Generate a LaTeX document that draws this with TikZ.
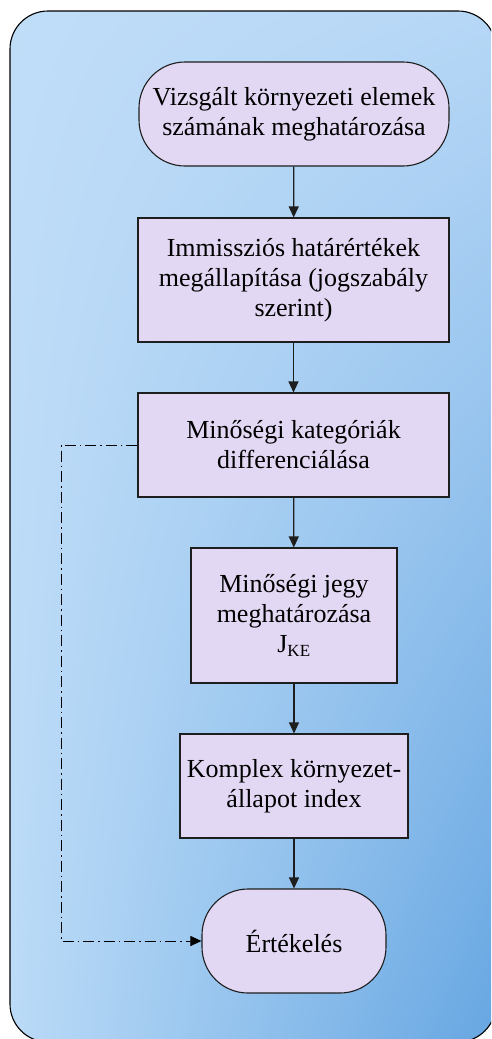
\documentclass[tikz,border=0pt]{standalone}
\usepackage{fontspec}
\setmainfont{Liberation Serif}
\usetikzlibrary{arrows.meta,shadings}
\definecolor{boxfill}{HTML}{E2D8F3}
\definecolor{boxline}{HTML}{1E1E1E}
\definecolor{bgUL}{HTML}{C0DDF8}
\definecolor{bgUR}{HTML}{B6D7F6}
\definecolor{bgLL}{HTML}{BBDBF7}
\definecolor{bgLR}{HTML}{66A6E2}
\tikzset{
  flowbox/.style={draw=boxline, line width=1.1pt, fill=boxfill, align=center,
    font=\fontsize{26}{30}\selectfont, inner sep=0pt},
  termbox/.style={flowbox, rounded corners=46pt},
  flowarrow/.style={draw=boxline, line width=1.2pt, -{Triangle[length=11pt,width=10pt]}},
  dasharrow/.style={draw=black, line width=0.9pt, dash pattern=on 11pt off 4pt on 1.5pt off 4pt,
    -{Triangle[length=11pt,width=10pt]}},
}
\begin{document}
\begin{tikzpicture}[x=1pt,y=-1pt]
\useasboundingbox (0,0) rectangle (491,1039);
\begin{scope}
\clip (0,0) rectangle (491,1039);
\shade[rounded corners=38pt, upper left=bgUL, upper right=bgUR, lower left=bgLL, lower right=bgLR]
  (10,11) rectangle (496,1042);
\draw[line width=1.1pt, rounded corners=38pt] (10,11) rectangle (496,1042);
\end{scope}

\node[termbox, minimum width=310pt, minimum height=104pt] (n1) at (294,114)
  {Vizsgált környezeti elemek\\számának meghatározása};
\node[flowbox, minimum width=311pt, minimum height=124pt] (n2) at (293.5,280)
  {Immissziós határértékek\\megállapítása (jogszabály\\szerint)};
\node[flowbox, minimum width=311pt, minimum height=104pt] (n3) at (293.5,445)
  {Minőségi kategóriák\\differenciálása};
\node[flowbox, minimum width=206pt, minimum height=135pt] (n4) at (294,615.5)
  {Minőségi jegy\\meghatározása\\J\textsubscript{\fontsize{17}{20}\selectfont KE}};
\node[flowbox, minimum width=228pt, minimum height=104pt] (n5) at (294,786)
  {Komplex környezet-\\állapot index};
\node[termbox, minimum width=184pt, minimum height=104pt] (n6) at (294,941)
  {Értékelés};

\coordinate (c1) at (61,445);
\coordinate (c2) at (61,941);

\draw[flowarrow] (n1) -- (n2);
\draw[flowarrow] (n2) -- (n3);
\draw[flowarrow] (n3) -- (n4);
\draw[flowarrow] (n4) -- (n5);
\draw[flowarrow] (n5) -- (n6);
\draw[dasharrow] (n3.west) -- (c1) -- (c2) -- (n6.west);
\end{tikzpicture}
\end{document}
